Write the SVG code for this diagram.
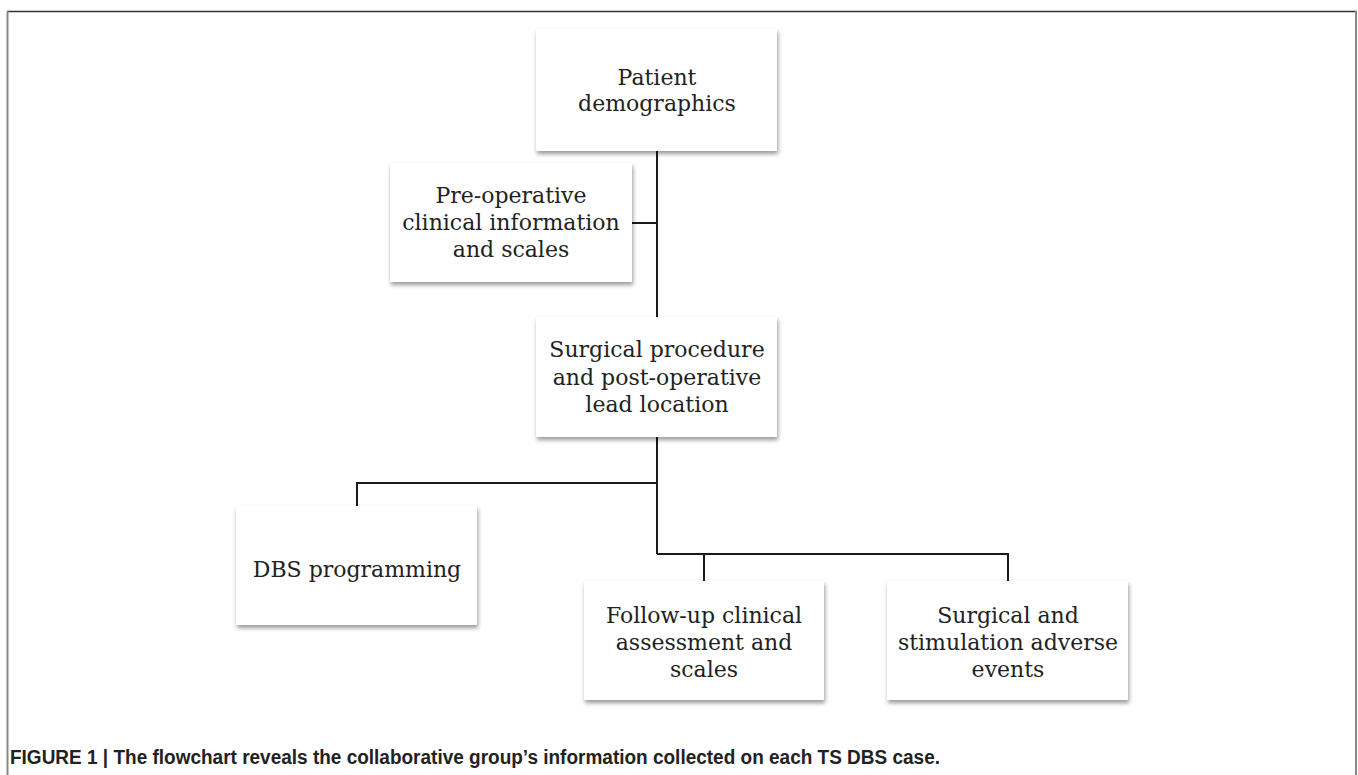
<svg xmlns="http://www.w3.org/2000/svg" width="1358" height="775" viewBox="0 0 1358 775">
<defs>
<filter id="sh" x="-10%" y="-10%" width="125%" height="130%">
<feDropShadow dx="1" dy="3" stdDeviation="2" flood-color="#000" flood-opacity="0.4"/>
</filter>
<style>
.box{fill:#fff;filter:url(#sh)}
.t{font-family:"DejaVu Serif","Liberation Serif",serif;font-size:22px;fill:#222;text-anchor:middle}
.c{fill:none;stroke:#1a1a1a;stroke-width:2}
.cap{font-family:"Liberation Sans",Arial,sans-serif;font-weight:bold;font-size:19.5px;fill:#222}
</style>
</defs>
<rect width="1358" height="775" fill="#fff"/>
<g id="frame">
<line x1="7" y1="11.5" x2="1357" y2="11.5" stroke="#333" stroke-width="1.5"/>
<line x1="7.5" y1="11" x2="7.5" y2="775" stroke="#888" stroke-width="2"/>
<line x1="1356" y1="11" x2="1356" y2="775" stroke="#888" stroke-width="2"/>
</g>
<g id="connectors">
<path class="c" d="M657 151V317"/>
<path class="c" d="M632 223H657"/>
<path class="c" d="M657 437V554"/>
<path class="c" d="M657 483H357V506"/>
<path class="c" d="M657 554H1008V581"/>
<path class="c" d="M704 554V581"/>
</g>
<g id="patient">
<rect class="box" x="536" y="29" width="241" height="122"/>
<text class="t" x="657" y="85">Patient</text>
<text class="t" x="657" y="111">demographics</text>
</g>
<g id="preop">
<rect class="box" x="390" y="163" width="242" height="119"/>
<text class="t" x="511" y="203">Pre-operative</text>
<text class="t" x="511" y="230">clinical information</text>
<text class="t" x="511" y="257">and scales</text>
</g>
<g id="surgical">
<rect class="box" x="536" y="317" width="241" height="120"/>
<text class="t" x="657" y="357">Surgical procedure</text>
<text class="t" x="657" y="385">and post-operative</text>
<text class="t" x="657" y="412">lead location</text>
</g>
<g id="dbs">
<rect class="box" x="236" y="506" width="241" height="119"/>
<text class="t" x="357" y="577">DBS programming</text>
</g>
<g id="followup">
<rect class="box" x="584" y="581" width="240" height="119"/>
<text class="t" x="704" y="623">Follow-up clinical</text>
<text class="t" x="704" y="650">assessment and</text>
<text class="t" x="704" y="677">scales</text>
</g>
<g id="adverse">
<rect class="box" x="887" y="581" width="241" height="119"/>
<text class="t" x="1008" y="623">Surgical and</text>
<text class="t" x="1008" y="650">stimulation adverse</text>
<text class="t" x="1008" y="677">events</text>
</g>
<text class="cap" x="10" y="764" textLength="930" lengthAdjust="spacingAndGlyphs">FIGURE 1 | The flowchart reveals the collaborative group’s information collected on each TS DBS case.</text>
</svg>
